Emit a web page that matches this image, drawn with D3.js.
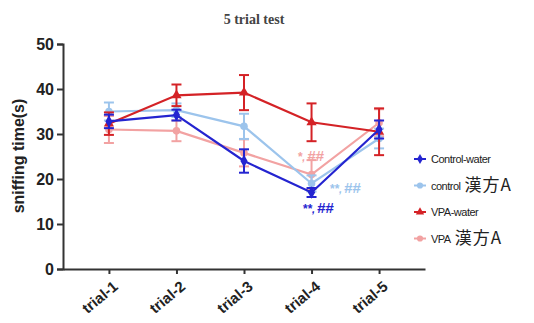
<!DOCTYPE html>
<html>
<head>
<meta charset="utf-8">
<script src="https://cdn.jsdelivr.net/npm/d3@7"></script>
<style>
  body { margin: 0; background: #fff; }
  svg { display: block; }
</style>
</head>
<body>
<div id="chart"></div>
<script>
const trials = ["trial-1", "trial-2", "trial-3", "trial-4", "trial-5"];
const yTicks = [0, 10, 20, 30, 40, 50];

const controlWater = [32.8, 34.2, 24.0, 17.0, 31.0];
const controlWaterErr = [1.5, 1.2, 2.6, 1.0, 2.0];
const controlKampo = [35.0, 35.3, 31.7, 19.0, 29.0];
const controlKampoErr = [2.0, 1.5, 2.8, 1.8, 2.2];
const vpaWater = [32.3, 38.6, 39.2, 32.6, 30.5];
const vpaWaterErr = [2.5, 2.4, 3.9, 4.2, 5.2];
const vpaKampo = [31.0, 30.7, 25.8, 21.0, 32.5];
const vpaKampoErr = [3.0, 2.3, 3.0, 3.2, 3.0];

const seriesNames = ["Control-water", "control 漢方A", "VPA-water", "VPA 漢方A"];
const colours = ["#2424d0", "#9cc4ec", "#d42226", "#f2a2a2"];

const series = [
  { name: seriesNames[0], values: controlWater, err: controlWaterErr, colour: colours[0], sym: d3.symbolDiamond },
  { name: seriesNames[1], values: controlKampo, err: controlKampoErr, colour: colours[1], sym: d3.symbolCircle },
  { name: seriesNames[2], values: vpaWater, err: vpaWaterErr, colour: colours[2], sym: d3.symbolTriangle },
  { name: seriesNames[3], values: vpaKampo, err: vpaKampoErr, colour: colours[3], sym: d3.symbolCircle }
];
// draw order: light ones first
const drawOrder = [3, 1, 2, 0];

const width = 534, height = 323;
const svg = d3.select("#chart").append("svg")
  .attr("width", width)
  .attr("height", height);

let x = d3.scalePoint()
  .domain(trials)
  .range([63, 425])
  .padding(0.68);

let y = d3.scaleLinear()
  .domain([0, 50])
  .range([269, 44]);

// title
svg.append("text")
  .attr("x", 254)
  .attr("y", 24)
  .attr("text-anchor", "middle")
  .style("font-family", "Liberation Serif, serif")
  .style("font-size", "14px")
  .style("font-weight", "bold")
  .style("fill", "#444")
  .text("5 trial test");

// y axis
let yAxis = svg.append("g")
  .attr("transform", "translate(63,0)")
  .call(d3.axisLeft(y).tickValues(yTicks).tickSize(6).tickPadding(3));
yAxis.select(".domain").attr("stroke", "#333").attr("stroke-width", 2);
yAxis.selectAll(".tick line").attr("stroke", "#333").attr("stroke-width", 2);
yAxis.selectAll(".tick text")
  .style("font-family", "Liberation Sans, Arial, sans-serif")
  .style("font-size", "16px")
  .style("font-weight", "bold")
  .style("fill", "#222");

// x axis
let xAxis = svg.append("g")
  .attr("transform", "translate(0,269)")
  .call(d3.axisBottom(x).tickSize(5).tickSizeOuter(0));
xAxis.select(".domain").attr("stroke", "#333").attr("stroke-width", 2);
xAxis.selectAll(".tick line").attr("stroke", "#333").attr("stroke-width", 2);
xAxis.selectAll(".tick text")
  .style("font-family", "Liberation Sans, Arial, sans-serif")
  .style("font-size", "15px")
  .style("font-weight", "bold")
  .style("fill", "#222")
  .attr("text-anchor", "end")
  .attr("x", 0)
  .attr("y", 0)
  .attr("dy", "0.35em")
  .attr("transform", "translate(6,15) rotate(-40)");

// y label
svg.append("text")
  .attr("transform", "translate(24,156) rotate(-90)")
  .attr("text-anchor", "middle")
  .style("font-family", "Liberation Sans, Arial, sans-serif")
  .style("font-size", "16px")
  .style("font-weight", "bold")
  .style("fill", "#222")
  .text("sniffing time(s)");

let line = d3.line()
  .x((d, i) => x(trials[i]))
  .y(d => y(d));

drawOrder.forEach(function (k) {
  let s = series[k];
  let g = svg.append("g").attr("class", "series");
  g.append("path")
    .attr("d", line(s.values))
    .attr("fill", "none")
    .attr("stroke", s.colour)
    .attr("stroke-width", 2.2);

  s.values.forEach(function (v, i) {
    let cx = x(trials[i]);
    let e = s.err[i];
    g.append("line")
      .attr("x1", cx).attr("x2", cx)
      .attr("y1", y(v - e)).attr("y2", y(v + e))
      .attr("stroke", s.colour).attr("stroke-width", 2);
    [v - e, v + e].forEach(function (c) {
      g.append("line")
        .attr("x1", cx - 5).attr("x2", cx + 5)
        .attr("y1", y(c)).attr("y2", y(c))
        .attr("stroke", s.colour).attr("stroke-width", 2);
    });
    g.append("path")
      .attr("d", d3.symbol().type(s.sym).size(45)())
      .attr("transform", "translate(" + cx + "," + y(v) + ")")
      .attr("fill", s.colour);
  });
});

// significance marks near trial-4
const sigMarks = [
  { stars: "*", value: 24.0, colour: colours[3], dx: -14 },
  { stars: "**", value: 17.0, colour: colours[1], dx: 18 },
  { stars: "**", value: 12.4, colour: colours[0], dx: -9 }
];
sigMarks.forEach(function (m) {
  let t = svg.append("text")
    .attr("x", x("trial-4") + m.dx)
    .attr("y", y(m.value))
    .style("font-family", "Liberation Sans, Arial, sans-serif")
    .style("font-style", "italic")
    .style("font-weight", "bold")
    .style("fill", m.colour);
  t.append("tspan")
    .style("font-size", "12px")
    .text(m.stars);
  t.append("tspan")
    .style("font-size", "11px")
    .text(",");
  t.append("tspan")
    .attr("dx", 2)
    .style("font-size", "15px")
    .text("##");
});

// legend
let legend = svg.append("g").attr("transform", "translate(420,159)");
series.forEach(function (s, i) {
  let row = legend.append("g").attr("transform", "translate(0," + (i * 26.5) + ")");
  row.append("line")
    .attr("x1", -6).attr("x2", 6)
    .attr("stroke", s.colour).attr("stroke-width", 2);
  row.append("path")
    .attr("d", d3.symbol().type(s.sym).size(30)())
    .attr("fill", s.colour);
  let parts = s.name.split(" ");
  let t = row.append("text")
    .attr("x", 11)
    .attr("y", 4)
    .style("font-family", "Liberation Sans Narrow, Liberation Sans, Arial, sans-serif")
    .style("fill", "#222");
  t.append("tspan")
    .style("font-size", "11px")
    .style("letter-spacing", "-0.5px")
    .text(parts[0]);
  if (parts.length > 1) {
    t.append("tspan")
      .attr("dx", 4)
      .attr("dy", 1)
      .style("font-family", "Noto Sans CJK JP, sans-serif")
      .style("font-size", "17px")
      .style("letter-spacing", "1px")
      .text(parts[1]);
  }
});
</script>
</body>
</html>
